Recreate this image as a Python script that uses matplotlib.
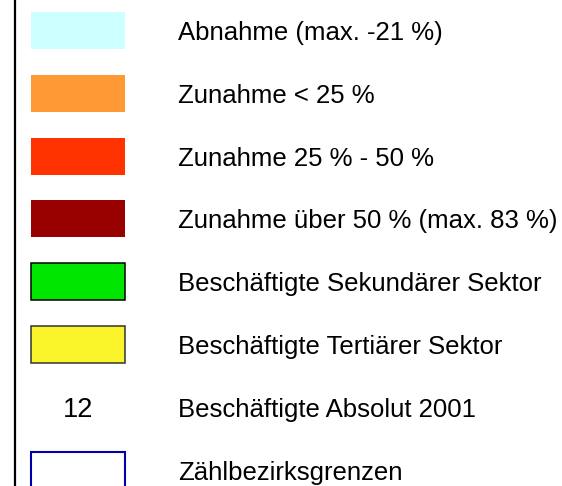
import matplotlib
matplotlib.use('Agg')
import matplotlib.pyplot as plt
from matplotlib.patches import Rectangle

# legend entries
labels = ['Abnahme (max. -21 %)', 'Zunahme < 25 %', 'Zunahme 25 % - 50 %',
          'Zunahme über 50 % (max. 83 %)', 'Beschäftigte Sekundärer Sektor',
          'Beschäftigte Tertiärer Sektor', 'Beschäftigte Absolut 2001',
          'Zählbezirksgrenzen']
fills = ['#ccffff', '#ff9933', '#ff3300', '#990000', '#00e600', '#faf52a', None, 'white']
edges = [None, None, None, None, 'black', '#333333', None, '#0000aa']
sample_text = '12'

W, H = 562, 486
fig = plt.figure(figsize=(W / 100, H / 100), dpi=100)
ax = fig.add_axes([0, 0, 1, 1])
ax.set_xlim(0, W)
ax.set_ylim(H, 0)
ax.axis('off')

# left frame line
ax.plot([15, 15], [0, H], color='black', lw=1.6)

y0, step = 30.5, 62.8
bx, bw, bh = 31, 94, 37
for i, lab in enumerate(labels):
    yc = y0 + i * step
    if fills[i] is None:
        ax.text(bx + bw / 2, yc + 2.5, sample_text, ha='center', va='center',
                fontsize=19.5, family='Liberation Sans')
    else:
        ec = edges[i] if edges[i] else fills[i]
        lw = 1.1 if edges[i] else 0
        if i == len(labels) - 1:
            lw = 1.5
        ax.add_patch(Rectangle((bx, yc - bh / 2), bw, bh, facecolor=fills[i],
                               edgecolor=ec, lw=lw))
    ax.text(178, yc + 2.5, lab, ha='left', va='center', fontsize=18.5,
            family='Liberation Sans')

fig.savefig('out.png', dpi=100)
